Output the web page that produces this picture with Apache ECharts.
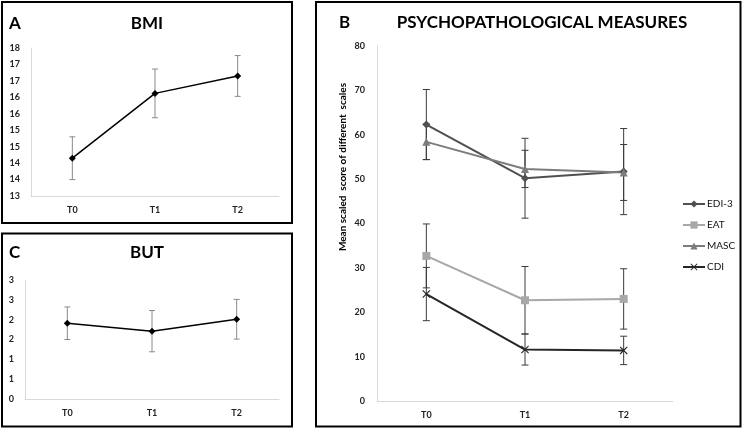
<!DOCTYPE html>
<html>
<head>
<meta charset="utf-8">
<script src="https://cdn.jsdelivr.net/npm/echarts@6/dist/echarts.min.js"></script>
<style>
html,body{margin:0;padding:0;background:#fff;}
#main{width:744px;height:429px;}
</style>
</head>
<body>
<div id="main"></div>
<script>
// ---------- data ----------
const categories = ['T0', 'T1', 'T2'];

const bmiMean = [14.15, 16.12, 16.65];
const bmiErr  = [0.65, 0.74, 0.62];

const butMean = [1.91, 1.71, 2.01];
const butErr  = [0.41, 0.52, 0.50];

const edi3Mean = [62.3, 50.2, 51.7];
const edi3Err  = [7.9, 9.0, 9.7];
const eatMean  = [32.7, 22.7, 23.0];
const eatErr   = [7.2, 7.6, 6.8];
const mascMean = [58.4, 52.3, 51.5];
const mascErr  = [4.0, 4.2, 6.3];
const cdiMean  = [24.1, 11.6, 11.4];
const cdiErr   = [6.0, 3.5, 3.2];

const psychNames = ['EDI-3', 'EAT', 'MASC', 'CDI'];

// ---------- helpers ----------
const FONT = 'Lato, "Open Sans", sans-serif';
const crossPath = 'path://M0,1L1,0L5,4L9,0L10,1L6,5L10,9L9,10L5,6L1,10L0,9L4,5Z';

function errData(mean, err) {
  return mean.map((m, i) => [i, m - err[i], m + err[i]]);
}
function errSeries(mean, err, xi, yi, color, half, z) {
  return {
    type: 'custom',
    xAxisIndex: xi, yAxisIndex: yi,
    z: z || 1,
    silent: true,
    data: errData(mean, err),
    renderItem: function (params, api) {
      const x = api.value(0);
      const lo = api.coord([x, api.value(1)]);
      const hi = api.coord([x, api.value(2)]);
      const st = { stroke: color, lineWidth: 1 };
      return {
        type: 'group',
        children: [
          { type: 'line', shape: { x1: lo[0], y1: lo[1], x2: hi[0], y2: hi[1] }, style: st },
          { type: 'line', shape: { x1: hi[0] - half, y1: hi[1], x2: hi[0] + half, y2: hi[1] }, style: st },
          { type: 'line', shape: { x1: lo[0] - half, y1: lo[1], x2: lo[0] + half, y2: lo[1] }, style: st }
        ]
      };
    }
  };
}
function catAxis(gi) {
  return {
    type: 'category', gridIndex: gi, data: categories, boundaryGap: true,
    axisLine: { lineStyle: { color: '#d9d9d9', width: 1 } },
    axisTick: { show: false },
    axisLabel: { color: '#222', fontSize: 9, fontWeight: 'bold', fontFamily: FONT, margin: 10 },
    splitLine: { show: false }
  };
}
function valAxis(gi, min, max, interval, fmt, margin) {
  return {
    type: 'value', gridIndex: gi, min: min, max: max, interval: interval,
    axisLine: { show: true, lineStyle: { color: '#d9d9d9', width: 1 } },
    axisTick: { show: false },
    splitLine: { show: false },
    axisLabel: { color: '#222', fontSize: 9, fontWeight: 'bold', fontFamily: FONT, margin: margin, formatter: fmt }
  };
}
const roundFmt = v => String(Math.round(v));

const chart = echarts.init(document.getElementById('main'), null, { renderer: 'canvas' });

const psychColors = ['#505050', '#a8a8a8', '#7c7c7c', '#262626'];
const psychSymbols = ['diamond', 'rect', 'triangle', crossPath];
const psychSizes = [8, 8, 8, 8];
const psychMeans = [edi3Mean, eatMean, mascMean, cdiMean];
const psychErrs = [edi3Err, eatErr, mascErr, cdiErr];

const series = [];
// Panel A: BMI
series.push(errSeries(bmiMean, bmiErr, 0, 0, '#8a8a8a', 3, 1));
series.push({
  type: 'line', name: 'BMI', xAxisIndex: 0, yAxisIndex: 0, data: bmiMean, z: 3,
  symbol: 'diamond', symbolSize: 7, lineStyle: { color: '#000', width: 1.5 },
  itemStyle: { color: '#000' }
});
// Panel C: BUT
series.push(errSeries(butMean, butErr, 1, 1, '#8a8a8a', 3, 1));
series.push({
  type: 'line', name: 'BUT', xAxisIndex: 1, yAxisIndex: 1, data: butMean, z: 3,
  symbol: 'diamond', symbolSize: 7, lineStyle: { color: '#000', width: 1.5 },
  itemStyle: { color: '#000' }
});
// Panel B: psychopathological measures
for (let k = 0; k < 4; k++) {
  series.push(errSeries(psychMeans[k], psychErrs[k], 2, 2, '#3a3a3a', 3.5, 1));
}
for (let k = 0; k < 4; k++) {
  series.push({
    type: 'line', name: psychNames[k], xAxisIndex: 2, yAxisIndex: 2, data: psychMeans[k], z: 3,
    symbol: psychSymbols[k], symbolSize: psychSizes[k],
    lineStyle: { color: psychColors[k], width: 2 },
    itemStyle: { color: psychColors[k] }
  });
}

const option = {
  backgroundColor: '#fff',
  animation: false,
  grid: [
    { left: 31, top: 48, width: 248, height: 148 },
    { left: 25, top: 280, width: 254, height: 119 },
    { left: 377, top: 46, width: 296, height: 355 }
  ],
  xAxis: [catAxis(0), catAxis(1), catAxis(2)],
  yAxis: [
    valAxis(0, 13, 17.5, 0.5, roundFmt, 11),
    valAxis(1, 0, 3, 0.5, roundFmt, 11),
    valAxis(2, 0, 80, 10, null, 12)
  ],
  legend: {
    data: psychNames,
    orient: 'vertical',
    left: 677, top: 194,
    itemWidth: 22, itemHeight: 9, itemGap: 11,
    textStyle: { fontSize: 10, color: '#111', fontFamily: FONT, padding: [0, 0, 0, -3] }
  },
  series: series,
  graphic: [
    { type: 'rect', shape: { x: 2, y: 2, width: 290, height: 221 }, style: { fill: 'none', stroke: '#000', lineWidth: 2 } },
    { type: 'rect', shape: { x: 2, y: 233.5, width: 290, height: 193 }, style: { fill: 'none', stroke: '#000', lineWidth: 2 } },
    { type: 'rect', shape: { x: 316, y: 2, width: 424.5, height: 424.5 }, style: { fill: 'none', stroke: '#000', lineWidth: 2 } },
    { type: 'text', x: 9, y: 24, style: { text: 'A', font: 'bold 17px ' + FONT, fill: '#000', textAlign: 'left', textVerticalAlign: 'middle' } },
    { type: 'text', x: 147, y: 24, style: { text: 'BMI', font: 'bold 17px ' + FONT, fill: '#000', textAlign: 'center', textVerticalAlign: 'middle' } },
    { type: 'text', x: 9, y: 253, style: { text: 'C', font: 'bold 17px ' + FONT, fill: '#000', textAlign: 'left', textVerticalAlign: 'middle' } },
    { type: 'text', x: 147, y: 253, style: { text: 'BUT', font: 'bold 17px ' + FONT, fill: '#000', textAlign: 'center', textVerticalAlign: 'middle' } },
    { type: 'text', x: 339, y: 23, style: { text: 'B', font: 'bold 17px ' + FONT, fill: '#000', textAlign: 'left', textVerticalAlign: 'middle' } },
    { type: 'text', x: 542, y: 23, style: { text: 'PSYCHOPATHOLOGICAL MEASURES', font: 'bold 17px ' + FONT, fill: '#000', textAlign: 'center', textVerticalAlign: 'middle' } },
    { type: 'text', x: 343, y: 167, rotation: Math.PI / 2, style: { text: 'Mean scaled  score of different  scales', font: 'bold 10px ' + FONT, fill: '#000', textAlign: 'center', textVerticalAlign: 'middle' } }
  ]
};
chart.setOption(option);
</script>
</body>
</html>
